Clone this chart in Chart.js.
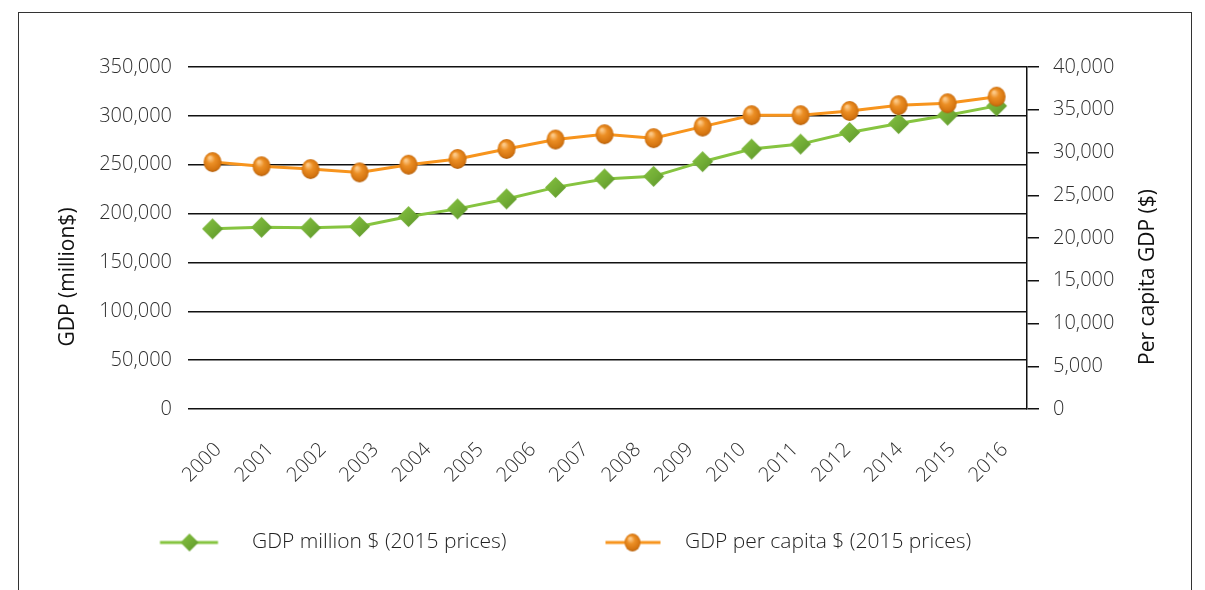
<!DOCTYPE html>
<html>
<head>
<meta charset="utf-8">
<script src="https://cdn.jsdelivr.net/npm/chart.js@4.4.1/dist/chart.umd.min.js"></script>
<style>
  html, body { margin: 0; padding: 0; background: #fff; overflow: hidden; }
  #frame { position: absolute; left: 18px; top: 12px; width: 1172px; height: 600px; border: 1px solid #333; }
  #chart { position: absolute; left: 0; top: 0; }
</style>
</head>
<body>
<div id="frame"><canvas id="chart" width="1172" height="577"></canvas></div>
<script>
// data points (2000..2016) and the axis labels as printed on the chart
const years = ['2000', '2001', '2002', '2003', '2004', '2005', '2006', '2007', '2008',
  '2009', '2010', '2011', '2012', '2013', '2014', '2015', '2016'];
const tickLabels = ['2000', '2001', '2002', '2003', '2004', '2005', '2006', '2007', '2008',
  '2009', '2010', '2011', '2012', '2014', '2015', '2016'];
const gdpMillion = [184400, 186000, 185400, 186700, 196900, 204800, 215000, 226800, 235400,
  238100, 253100, 266000, 271100, 283000, 292100, 300700, 310200];
const gdpPerCapita = [28880, 28390, 28060, 27670, 28570, 29240, 30410, 31520, 32140,
  31680, 33030, 34360, 34360, 34860, 35530, 35760, 36530];
const seriesNames = ['GDP million $ (2015 prices)', 'GDP per capita $ (2015 prices)'];
const leftTitle = 'GDP (million$)';
const rightTitle = 'Per capita GDP ($)';

const FONT = "'Open Sans', sans-serif";
const tickFont = { family: FONT, size: 20, weight: 300 };
const tickColor = '#2e2e2e';

function diamondIcon(r) {
  const c = document.createElement('canvas');
  const s = Math.ceil(r * 2 + 2);
  c.width = c.height = s;
  const g = c.getContext('2d');
  const m = s / 2;
  const grad = g.createLinearGradient(m - r, m - r, m + r, m + r);
  grad.addColorStop(0, '#86c240');
  grad.addColorStop(0.55, '#71ac35');
  grad.addColorStop(1, '#5a9228');
  g.beginPath();
  g.moveTo(m, m - r);
  g.lineTo(m + r, m);
  g.lineTo(m, m + r);
  g.lineTo(m - r, m);
  g.closePath();
  g.fillStyle = grad;
  g.fill();
  return c;
}

function ballIcon(rx, ry) {
  const c = document.createElement('canvas');
  c.width = Math.ceil(rx * 2 + 2);
  c.height = Math.ceil(ry * 2 + 2);
  const g = c.getContext('2d');
  const cx = c.width / 2, cy = c.height / 2;
  const grad = g.createRadialGradient(cx - rx * 0.3, cy - ry * 0.45, 1, cx, cy, ry * 1.05);
  grad.addColorStop(0, '#fcc886');
  grad.addColorStop(0.35, '#ec8f25');
  grad.addColorStop(0.8, '#d47410');
  grad.addColorStop(1, '#a9590b');
  g.beginPath();
  g.ellipse(cx, cy, rx, ry, 0, 0, Math.PI * 2);
  g.fillStyle = grad;
  g.fill();
  return c;
}

function legendIcon(w, x0, x1, color, marker, mx) {
  const c = document.createElement('canvas');
  c.width = Math.round(w);
  c.height = 24;
  const g = c.getContext('2d');
  g.strokeStyle = color;
  g.lineWidth = 3;
  g.beginPath();
  g.moveTo(x0, 12);
  g.lineTo(x1, 12);
  g.stroke();
  g.drawImage(marker, Math.round(mx - marker.width / 2), Math.round(12 - marker.height / 2));
  return c;
}

// legend geometry: icon width chosen so the second entry lands where it does in the original
const legendPad = 12;
const legendSize = 21;
const mctx = document.createElement('canvas').getContext('2d');
mctx.font = "300 " + legendSize + "px 'Open Sans', sans-serif";
const t1 = mctx.measureText(seriesNames[0]).width;
const half = legendSize / 2;
const iconW = Math.round(432.5 - half - legendPad - t1);
const start1 = 252 - half - iconW - 19;   // canvas x of first legend item
const start2 = 684.5 - half - iconW - 19;
const legendIcons = [
  legendIcon(iconW, 141 - start1, 199 - start1, '#86c440', diamondIcon(9), 170 - start1),
  legendIcon(iconW, 586 - start2, 641 - start2, '#f7941d', ballIcon(8, 9), 612.7 - start2)
];

const legendPlace = {
  id: 'legendPlace',
  afterLayout(chart) {
    const lg = chart.legend;
    const w = lg.right - lg.left;
    lg.left = start1 - legendPad;
    lg.right = lg.left + w;
  }
};

const axisTitles = {
  id: 'axisTitles',
  afterDraw(chart) {
    const { ctx, chartArea } = chart;
    const yMid = chartArea.bottom - 132;
    ctx.save();
    ctx.font = "21px 'Open Sans', sans-serif";
    ctx.fillStyle = '#111';
    ctx.textAlign = 'center';
    ctx.textBaseline = 'middle';
    [[leftTitle, chartArea.left - 120], [rightTitle, chartArea.right + 121]].forEach(([t, x]) => {
      ctx.save();
      ctx.translate(x, yMid);
      ctx.rotate(-Math.PI / 2);
      ctx.fillText(t, 0, 0);
      ctx.restore();
    });
    ctx.restore();
  }
};

const ctx = document.getElementById('chart').getContext('2d');
const chart = new Chart(ctx, {
  type: 'line',
  data: {
    datasets: [{
      label: seriesNames[0],
      data: gdpMillion.map((v, i) => ({ x: i, y: v })),
      xAxisID: 'xd',
      yAxisID: 'y',
      borderColor: '#86c440',
      borderWidth: 3,
      pointStyle: diamondIcon(10.5),
      pointRadius: 10,
      tension: 0,
      order: 2
    }, {
      label: seriesNames[1],
      data: gdpPerCapita.map((v, i) => ({ x: i, y: v })),
      xAxisID: 'xd',
      yAxisID: 'y1',
      borderColor: '#f7941d',
      borderWidth: 3,
      pointStyle: ballIcon(9, 10),
      pointRadius: 10,
      tension: 0,
      order: 1
    }]
  },
  options: {
    responsive: false,
    animation: false,
    layout: { padding: { top: 54, bottom: 27, left: 0, right: 0 } },
    plugins: {
      legend: {
        position: 'bottom',
        align: 'start',
        labels: {
          usePointStyle: true,
          pointStyleWidth: iconW,
          padding: legendPad,
          color: '#222',
          font: { family: FONT, size: legendSize, weight: 300 },
          generateLabels: (chart) => {
            const items = Chart.defaults.plugins.legend.labels.generateLabels(chart);
            items.sort((a, b) => a.datasetIndex - b.datasetIndex);
            items.forEach((item) => { item.pointStyle = legendIcons[item.datasetIndex]; });
            return items;
          }
        }
      },
      tooltip: {
        callbacks: { title: (items) => years[items[0].raw.x] }
      }
    },
    scales: {
      xd: {
        type: 'linear',
        min: -0.5,
        max: 16.62,
        display: false
      },
      x: {
        type: 'category',
        labels: tickLabels,
        offset: true,
        position: 'bottom',
        grid: { display: false, drawTicks: false },
        border: { display: false },
        ticks: {
          autoSkip: false,
          minRotation: 45,
          maxRotation: 45,
          padding: 29,
          labelOffset: 4,
          color: tickColor,
          font: tickFont
        },
        afterFit: (s) => { s.height = 111; }
      },
      y: {
        position: 'left',
        min: 0,
        max: 350000,
        grid: { color: '#111', lineWidth: 1.5, drawTicks: false },
        border: { display: false },
        ticks: {
          stepSize: 50000,
          padding: 16,
          color: tickColor,
          font: tickFont,
          callback: (v) => v.toLocaleString('en-US')
        },
        afterFit: (s) => { s.width = 169; }
      },
      y1: {
        position: 'right',
        min: 0,
        max: 40000,
        grid: { drawOnChartArea: false, drawTicks: true, tickLength: 12, color: '#111', lineWidth: 1.5 },
        border: { display: true, color: '#111', width: 1.5 },
        ticks: {
          stepSize: 5000,
          padding: 14,
          color: tickColor,
          font: tickFont,
          callback: (v) => v.toLocaleString('en-US')
        },
        afterFit: (s) => { s.width = 164; }
      }
    }
  },
  plugins: [legendPlace, axisTitles]
});
</script>
</body>
</html>
